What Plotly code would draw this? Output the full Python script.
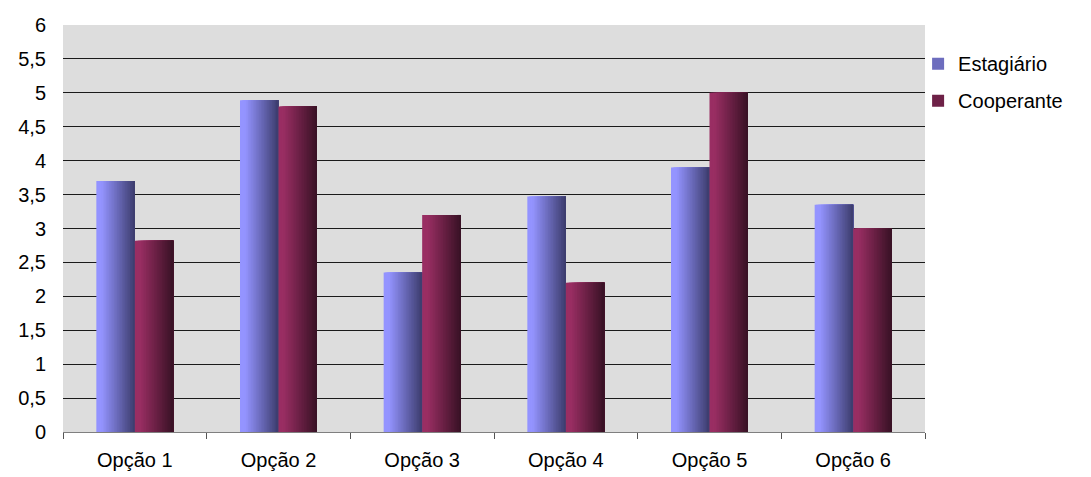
import plotly.graph_objects as go

# Data
categories = ["Opção 1", "Opção 2", "Opção 3", "Opção 4", "Opção 5", "Opção 6"]
estagiario = [3.7, 4.89, 2.35, 3.47, 3.9, 3.35]
cooperante = [2.82, 4.8, 3.2, 2.2, 5.0, 3.0]

series = [
    ("Estagiário", estagiario, (148, 148, 255), (62, 62, 112)),
    ("Cooperante", cooperante, (153, 46, 99), (58, 18, 38)),
]

BAR_W = 0.268      # width of one bar in category units
SLICES = 24        # stacked strips used to build the horizontal gradient


def lerp(c1, c2, t):
    return "rgb({},{},{})".format(*[round(a + (b - a) * t) for a, b in zip(c1, c2)])


fig = go.Figure()
for s_idx, (name, values, light, dark) in enumerate(series):
    start = -BAR_W + s_idx * BAR_W
    step = BAR_W / SLICES
    for k in range(SLICES):
        t = k / (SLICES - 1)
        # keep the light tone a little longer on the left side
        t = max(0.0, (t - 0.12) / 0.88)
        # each strip runs to the bar's right edge; darker strips are drawn on top
        fig.add_trace(go.Bar(
            x=categories,
            y=values,
            name=name,
            offset=start + k * step,
            width=BAR_W - k * step,
            marker=dict(color=lerp(light, dark, t), line=dict(width=0)),
            legendgroup=name,
            showlegend=(k == SLICES // 2),
            hoverinfo="skip",
        ))

fig.update_layout(
    width=1091,
    height=477,
    barmode="overlay",
    paper_bgcolor="white",
    plot_bgcolor="#DDDDDD",
    margin=dict(l=63, r=166, t=25, b=45),
    separators=",.",
    font=dict(family="Liberation Sans, Arial, sans-serif", size=20, color="black"),
    legend=dict(
        x=0.992, y=0.953, xanchor="left", yanchor="top",
        font=dict(size=20),
        traceorder="grouped",
        tracegroupgap=8,
        bgcolor="rgba(0,0,0,0)",
    ),
    xaxis=dict(
        type="category",
        range=[-0.5, 5.5],
        automargin=False,
        showgrid=False,
        showline=True,
        linecolor="#7F7F7F",
        linewidth=1,
        ticks="outside",
        tickson="boundaries",
        ticklen=6,
        tickcolor="#555555",
        ticklabelstandoff=10,
        tickfont=dict(size=20),
    ),
    yaxis=dict(
        range=[0, 6],
        dtick=0.5,
        automargin=False,
        showgrid=True,
        gridcolor="#1A1A1A",
        gridwidth=1,
        zeroline=False,
        showline=False,
        ticks="",
        ticklabelstandoff=16,
        tickfont=dict(size=20),
    ),
)

fig.write_html("out.html")
